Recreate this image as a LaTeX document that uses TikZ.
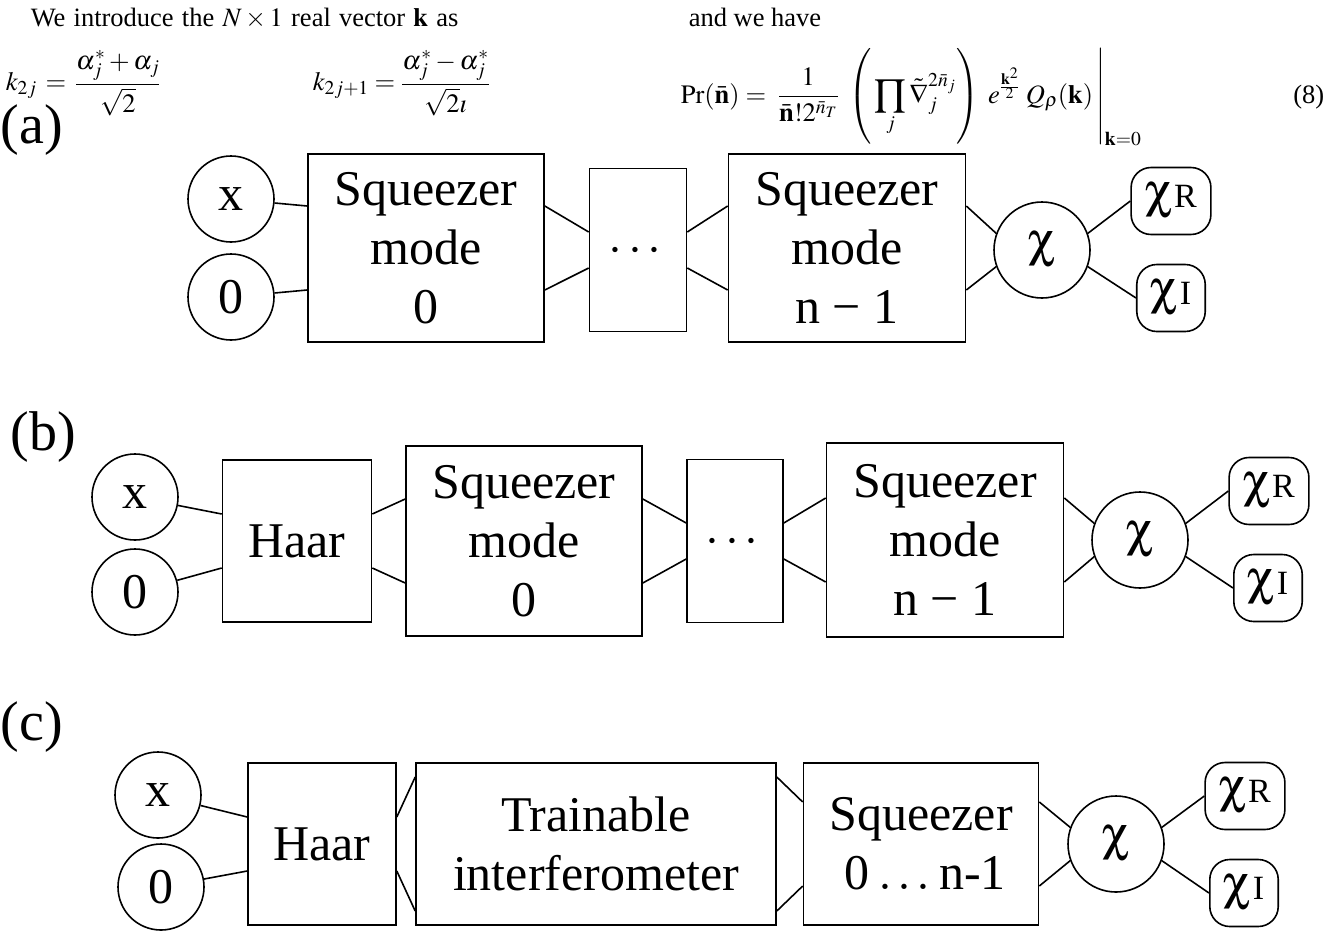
\documentclass[tikz,border=0pt]{standalone}
\usepackage{amsmath}
\usepackage{mathptmx}
\usepackage{pifont}
\usepackage{fontspec}
\setmainfont{Liberation Serif}
\newcommand{\bigtxt}{\fontsize{50}{59}\selectfont}
\newcommand{\upchi}{\Pisymbol{psy}{99}}
\newcommand{\chipart}[1]{{\bigtxt\upchi}\,{\fontsize{34}{34}\selectfont #1}}
\newcommand{\dotsrow}{\smash{\raisebox{-12pt}{$\cdots$}}}

\begin{document}
\begin{tikzpicture}[x=1pt,y=-1pt,line width=1.6pt,
  blk/.style={draw,rectangle,inner sep=0pt,align=center,font=\bigtxt},
  inp/.style={draw,circle,minimum size=86pt,inner sep=0pt,font=\bigtxt},
  chinode/.style={draw,circle,minimum size=96pt,inner sep=0pt,font=\bigtxt},
  part/.style={draw,rounded corners=20pt,minimum height=67pt,inner xsep=14pt,inner ysep=0pt},
  tag/.style={anchor=west,inner sep=0pt,font=\fontsize{56}{56}\selectfont},
  paper/.style={inner sep=0pt,font=\fontsize{26.5}{30}\selectfont}]
\useasboundingbox (0,0) rectangle (1337,934);
% text of the page above the figure
\node[paper,anchor=base west] (intro) at (30,27) {\spaceskip=8.2pt\relax We introduce the $N\times 1$ real vector $\mathbf{k}$ as};
\node[paper,anchor=west] (keven) at (5,83) {$k_{2j}\,=\,\dfrac{\alpha_j^*+\alpha_j}{\sqrt{2}}$};
\node[paper,anchor=west] (kodd) at (312,83) {$k_{2j+1}=\dfrac{\alpha_j^*-\alpha_j^*}{\sqrt{2}\imath}$};
\node[paper,anchor=base west] (andwe) at (688,27) {and we have};
\node[paper,anchor=base west] (prob) at (680,103) {$\displaystyle\Pr(\bar{\mathbf{n}})=\;\frac{1}{\bar{\mathbf{n}}!2^{\bar{n}_T}}\;\left.\left(\rule[-38pt]{0pt}{88pt}\prod_j\tilde{\nabla}_j^{2\bar{n}_j}\right)\;e^{\frac{\mathbf{k}^2}{2}}\;Q_\rho(\mathbf{k})\,\right|_{\mathbf{k}=0}$};
\node[paper,anchor=east] (eqno) at (1325,97) {(8)};
% (a)
\node[tag] (a-tag) at (0,130) {(a)};
\node[inp] (a-x) at (231,199) {x};
\node[inp] (a-0) at (231,297) {0};
\node[blk,minimum width=236pt,minimum height=188pt] (a-sq0) at (426,248) {Squeezer\\mode\\0};
\node[blk,minimum width=97pt,minimum height=163pt] (a-dots) at (638,250) {\dotsrow};
\node[blk,minimum width=237pt,minimum height=188pt] (a-sqn) at (847,248) {Squeezer\\mode\\n − 1};
\node[chinode] (a-chi) at (1042,250) {\upchi};
\node[part] (a-chiR) at (1171,201) {\chipart{R}};
\node[part] (a-chiI) at (1171,298) {\chipart{I}};
\draw (a-x) -- ([yshift=42pt]a-sq0.west);
\draw (a-0) -- ([yshift=-42pt]a-sq0.west);
\foreach \s/\a in {1/160,-1/200} {
  \draw ([yshift=\s*42pt]a-sq0.east) -- ([yshift=\s*18pt]a-dots.west);
  \draw ([yshift=\s*18pt]a-dots.east) -- ([yshift=\s*42pt]a-sqn.west);
  \draw ([yshift=\s*42pt]a-sqn.east) -- (a-chi.\a);
}
\draw (a-chi.20) -- (a-chiR.west);
\draw (a-chi.-20) -- (a-chiI.west);
% (b)
\node[tag] (b-tag) at (10,437) {(b)};
\node[inp] (b-x) at (135,497) {x};
\node[inp] (b-0) at (135,592) {0};
\node[blk,minimum width=149pt,minimum height=162pt] (b-haar) at (297,541) {Haar};
\node[blk,minimum width=236pt,minimum height=190pt] (b-sq0) at (524,541) {Squeezer\\mode\\0};
\node[blk,minimum width=96pt,minimum height=163pt] (b-dots) at (735,541) {\dotsrow};
\node[blk,minimum width=237pt,minimum height=194pt] (b-sqn) at (945,540) {Squeezer\\mode\\n − 1};
\node[chinode] (b-chi) at (1140,540) {\upchi};
\node[part] (b-chiR) at (1269,491) {\chipart{R}};
\node[part] (b-chiI) at (1268,588) {\chipart{I}};
\draw (b-x) -- ([yshift=27pt]b-haar.west);
\draw (b-0) -- ([yshift=-27pt]b-haar.west);
\foreach \s/\a in {1/160,-1/200} {
  \draw ([yshift=\s*27pt]b-haar.east) -- ([yshift=\s*42pt]b-sq0.west);
  \draw ([yshift=\s*42pt]b-sq0.east) -- ([yshift=\s*18pt]b-dots.west);
  \draw ([yshift=\s*18pt]b-dots.east) -- ([yshift=\s*42pt]b-sqn.west);
  \draw ([yshift=\s*42pt]b-sqn.east) -- (b-chi.\a);
}
\draw (b-chi.20) -- (b-chiR.west);
\draw (b-chi.-20) -- (b-chiI.west);
% (c)
\node[tag] (c-tag) at (0,727) {(c)};
\node[inp] (c-x) at (158,795) {x};
\node[inp] (c-0) at (161,887) {0};
\node[blk,minimum width=148pt,minimum height=162pt] (c-haar) at (322,844) {Haar};
\node[blk,minimum width=360pt,minimum height=162pt] (c-train) at (596,844) {Trainable\\interferometer};
\node[blk,minimum width=235pt,minimum height=162pt] (c-sq) at (921,844) {Squeezer\\\,0\,$\ldots$\,n-1};
\node[chinode] (c-chi) at (1116,844) {\upchi};
\node[part] (c-chiR) at (1245,796) {\chipart{R}};
\node[part] (c-chiI) at (1244,893) {\chipart{I}};
\draw (c-x) -- ([yshift=27pt]c-haar.west);
\draw (c-0) -- ([yshift=-27pt]c-haar.west);
\foreach \s/\a in {1/160,-1/200} {
  \draw ([yshift=\s*27pt]c-haar.east) -- ([yshift=\s*67pt]c-train.west);
  \draw ([yshift=\s*67pt]c-train.east) -- ([yshift=\s*42pt]c-sq.west);
  \draw ([yshift=\s*42pt]c-sq.east) -- (c-chi.\a);
}
\draw (c-chi.20) -- (c-chiR.west);
\draw (c-chi.-20) -- (c-chiI.west);
\end{tikzpicture}
\end{document}
